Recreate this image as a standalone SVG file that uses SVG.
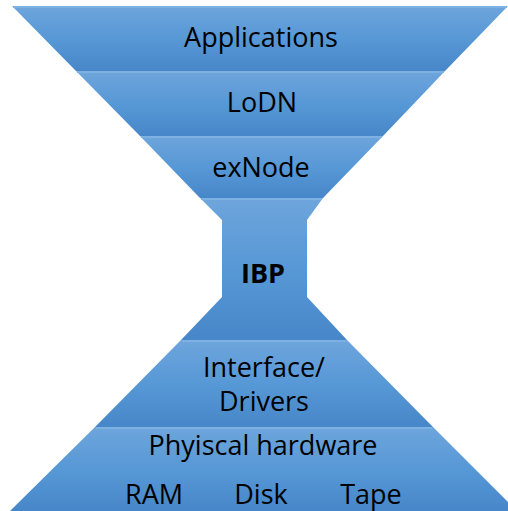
<svg xmlns="http://www.w3.org/2000/svg" width="508" height="511" viewBox="0 0 508 511">
<style>
.band{fill:url(#g);}
.hl{stroke:#7db1e2;stroke-width:2;}
.t{font-family:"Open Sans","Liberation Sans",sans-serif;font-size:27px;fill:#000;text-anchor:middle;}
.b{font-weight:bold;}
</style>
<defs>
<linearGradient id="g" x1="0" y1="0" x2="0" y2="1">
<stop offset="0" stop-color="#6ea5dc"/>
<stop offset="0.5" stop-color="#5798d6"/>
<stop offset="1" stop-color="#4787c9"/>
</linearGradient>
</defs>
<rect width="508" height="511" fill="#fff"/>
<g id="applications">
<polygon class="band" points="12,6 508,6 445,71 76,71"/>
<line class="hl" x1="13" y1="7" x2="507" y2="7"/>
<text class="t" x="261" y="47">Applications</text>
</g>
<g id="lodn">
<polygon class="band" points="76,71 445,71 383,136 140,136"/>
<line class="hl" x1="77" y1="72" x2="444" y2="72"/>
<text class="t" x="262" y="112">LoDN</text>
</g>
<g id="exnode">
<polygon class="band" points="140,136 383,136 323,198 200,198"/>
<line class="hl" x1="141" y1="137" x2="382" y2="137"/>
<text class="t" x="261" y="177">exNode</text>
</g>
<g id="ibp">
<polygon class="band" points="200,198 323,198 307,220 307,297 347,340 181,340 222,297 222,220"/>
<line class="hl" x1="201" y1="199" x2="322" y2="199"/>
<text class="t b" x="263" y="283">IBP</text>
</g>
<g id="interface">
<polygon class="band" points="181,340 347,340 433,427 95,427"/>
<line class="hl" x1="182" y1="341" x2="346" y2="341"/>
<text class="t" x="264" y="377">Interface/</text>
<text class="t" x="264" y="411">Drivers</text>
</g>
<g id="hardware">
<polygon class="band" points="95,427 433,427 517,511 10,511"/>
<line class="hl" x1="96" y1="428" x2="432" y2="428"/>
<text class="t" x="263" y="455">Phyiscal hardware</text>
<text class="t" x="154" y="504">RAM</text>
<text class="t" x="261" y="504">Disk</text>
<text class="t" x="371" y="504">Tape</text>
</g>
<g id="connectors"/>
</svg>
